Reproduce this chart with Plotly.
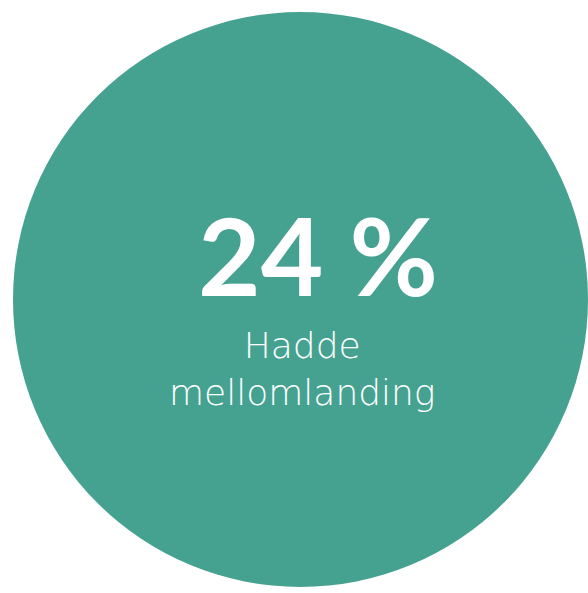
import plotly.graph_objects as go

# Data
share_values = [24]          # percent
share_labels = ["Hadde mellomlanding"]
value_suffix = " %"

W, H = 588, 593
teal = "#46A290"

fig = go.Figure()
# Full circle drawn as a single-slice pie
fig.add_trace(go.Pie(
    values=[1],
    labels=share_labels,
    marker=dict(colors=[teal], line=dict(width=0)),
    textinfo="none",
    hoverinfo="skip",
    sort=False,
    showlegend=False,
    domain=dict(x=[13 / W, 1.0], y=[1 - 587 / H, 1 - 12 / H]),
))

def py(px):
    return 1 - px / H

fig.add_annotation(
    text=f"<b>{share_values[0]}{value_suffix}</b>",
    xref="paper", yref="paper", x=318 / W, y=py(254),
    xanchor="center", yanchor="middle", showarrow=False,
    font=dict(family="Lato", size=108, color="white"),
)
fig.add_annotation(
    text="Hadde<br>mellomlanding",
    xref="paper", yref="paper", x=302 / W, y=py(369),
    xanchor="center", yanchor="middle", showarrow=False,
    font=dict(family="DejaVu Sans", size=36, color="white", weight=300),
)

fig.update_layout(
    width=W, height=H,
    margin=dict(l=0, r=0, t=0, b=0),
    paper_bgcolor="white", plot_bgcolor="white",
)
fig.write_html(
    "out.html",
    config={"displayModeBar": False},
    post_script="document.body.style.margin='0';document.body.style.overflow='hidden';",
)
